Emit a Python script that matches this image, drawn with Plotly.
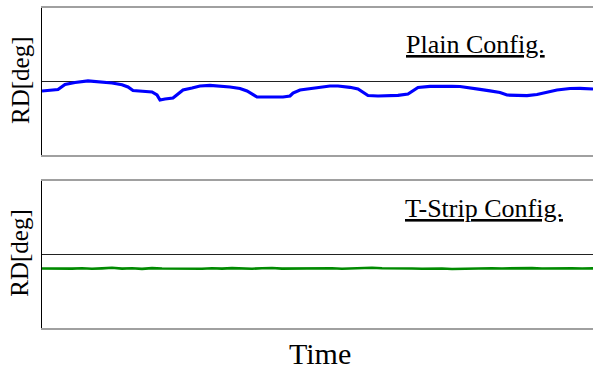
import plotly.graph_objects as go
from plotly.subplots import make_subplots

# Plain configuration (time [s], RD [deg])
plain_time = [0, 0.8, 1.6, 2.3, 3.3, 4.6, 5.8, 7.0, 8.0, 8.6, 9.1, 10.3, 11.0, 11.5, 11.8,
              12.3, 13.1, 13.6, 14.1, 15.0, 15.8, 16.8, 17.8, 18.8, 19.8, 20.5, 21.5, 22.8,
              24.1, 24.8, 25.1, 25.8, 26.5, 27.6, 28.8, 29.6, 30.8, 31.6, 32.1, 32.6, 33.6,
              34.6, 35.6, 36.6, 37.0, 37.6, 38.8, 40.0, 41.0, 41.8, 42.8, 43.8, 44.8, 45.8,
              46.5, 47.5, 48.5, 49.5, 50.5, 51.5, 52.8, 53.8, 55.1]
plain_rd = [-0.95, -0.90, -0.80, -0.30, -0.10, 0.07, 0.00, -0.15, -0.32, -0.55, -0.90, -0.95,
            -1.05, -1.35, -1.85, -1.75, -1.65, -1.25, -0.85, -0.65, -0.45, -0.38, -0.45, -0.55,
            -0.70, -0.95, -1.55, -1.58, -1.55, -1.45, -1.15, -0.85, -0.75, -0.55, -0.45, -0.45,
            -0.58, -0.75, -1.05, -1.40, -1.45, -1.45, -1.38, -1.25, -0.95, -0.60, -0.48, -0.45,
            -0.48, -0.50, -0.60, -0.78, -0.93, -1.10, -1.35, -1.42, -1.42, -1.30, -1.10, -0.85,
            -0.70, -0.68, -0.75]

# T-Strip configuration
tstrip_time = [0, 1, 2, 3, 4, 5, 6, 7, 8, 9, 10, 11, 12, 13, 14, 15, 16, 17, 18, 19, 20,
               21, 22, 23, 24, 25, 26, 27, 28, 29, 30, 31, 32, 33, 34, 35, 36, 37, 38, 39,
               40, 41, 42, 43, 44, 45, 46, 47, 48, 49, 50, 51, 52, 53, 54, 55.1]
tstrip_rd = [-1.40, -1.42, -1.38, -1.41, -1.37, -1.43, -1.39, -1.33, -1.41, -1.38, -1.44,
             -1.36, -1.40, -1.42, -1.37, -1.40, -1.43, -1.38, -1.41, -1.36, -1.40, -1.42,
             -1.38, -1.35, -1.41, -1.39, -1.43, -1.38, -1.40, -1.37, -1.42, -1.39, -1.41,
             -1.32, -1.38, -1.41, -1.37, -1.40, -1.42, -1.38, -1.40, -1.45, -1.42, -1.39,
             -1.41, -1.37, -1.40, -1.38, -1.42, -1.36, -1.40, -1.38, -1.41, -1.39, -1.40,
             -1.39]

fig = make_subplots(rows=2, cols=1, vertical_spacing=0.0812)

fig.add_trace(go.Scatter(x=plain_time, y=plain_rd, mode="lines",
                         line=dict(color="#0000ff", width=3.2)), row=1, col=1)
fig.add_trace(go.Scatter(x=tstrip_time, y=tstrip_rd, mode="lines",
                         line=dict(color="#008a00", width=2.6)), row=2, col=1)

fig.update_xaxes(range=[0, 55.1], showline=True, mirror=True, linecolor="#a0a0a0",
                 linewidth=1.5, showticklabels=False, ticks="", showgrid=False, zeroline=False)
fig.update_yaxes(range=[-7.35, 7.35], showline=True, linecolor="black", linewidth=1.2,
                 showticklabels=False, ticks="", showgrid=False, zeroline=True,
                 zerolinecolor="#222222", zerolinewidth=1.3)

fig.update_layout(
    width=593, height=370,
    margin=dict(l=42, r=0, t=8, b=42),
    paper_bgcolor="white", plot_bgcolor="white",
    showlegend=False,
    font=dict(family="Liberation Serif", color="black"),
)
fig.layout.yaxis.domain = [0.5406, 1.0]
fig.layout.yaxis2.domain = [0.0, 0.4594]

fig.add_annotation(text="<u>Plain Config.</u>", xref="paper", yref="paper",
                   x=0.657, y=0.8875, xanchor="left", yanchor="middle", showarrow=False,
                   font=dict(size=26))
fig.add_annotation(text="<u>T-Strip Config.</u>", xref="paper", yref="paper",
                   x=0.655, y=0.375, xanchor="left", yanchor="middle", showarrow=False,
                   font=dict(size=26))
fig.add_annotation(text="RD[deg]", xref="paper", yref="paper", x=-0.04, y=0.775,
                   xanchor="center", yanchor="middle", textangle=-90, showarrow=False,
                   font=dict(size=25))
fig.add_annotation(text="RD[deg]", xref="paper", yref="paper", x=-0.04, y=0.235,
                   xanchor="center", yanchor="middle", textangle=-90, showarrow=False,
                   font=dict(size=25))
fig.add_annotation(text="Time", xref="paper", yref="paper", x=0.5045, y=-0.081,
                   xanchor="center", yanchor="middle", showarrow=False,
                   font=dict(size=30))

fig.write_html("out.html")
